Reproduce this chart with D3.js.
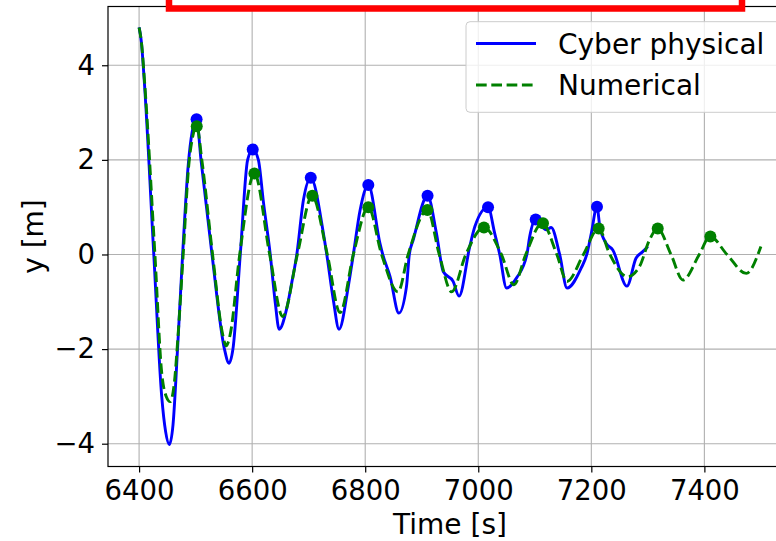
<!DOCTYPE html>
<html>
<head>
<meta charset="utf-8">
<script src="https://cdn.jsdelivr.net/npm/d3@7"></script>
<style>
  body { margin: 0; background: #fff; }
  svg { display: block; font-family: "DejaVu Sans", sans-serif; }
  .grid line { stroke: #b0b0b0; stroke-width: 1.1; }
  .tick text { fill: #000; }
</style>
</head>
<body>
<div id="chart"></div>
<script>
// values
var cyberT = [6400, 6404, 6409, 6426, 6440, 6447, 6453.5, 6460, 6468, 6477, 6487, 6494, 6501.7,
    6509.5, 6529, 6551, 6559, 6566, 6579, 6592, 6601, 6611, 6620, 6632, 6641, 6647.7,
    6661, 6670, 6679, 6690.7, 6703.7, 6726, 6732, 6743.6, 6753.7, 6770, 6779, 6791, 6805.5,
    6826, 6831, 6844, 6859.6, 6873, 6878, 6885, 6910.3, 6926, 6938, 6955.5, 6966, 6985,
    6994, 7017.3, 7029, 7038, 7050, 7067.5, 7086, 7091, 7101.6, 7120.5, 7129, 7144, 7157,
    7182, 7192, 7200, 7210, 7215, 7226, 7238, 7263, 7279, 7291, 7300];
var cyberY = [4.8, 4.5, 3.7, 0, -3.0, -3.75, -4.02, -3.6, -2.0, 0, 1.9, 2.6, 2.86,
    2.0, 0, -2, -2.30, -2, 0, 2.0, 2.22, 2.0, 1.1, 0, -1.03, -1.58,
    -1.15, -0.6, 0, 1.15, 1.62, 0.45, 0, -0.96, -1.58, -0.68, 0, 0.94, 1.47,
    0.24, 0, -0.47, -1.24, -0.68, 0, 0.31, 1.24, 0.45, -0.36, -0.57, -0.88, 0.17,
    0.59, 1.0, 0.45, 0, -0.71, -0.50, 0, 0.38, 0.74, 0.52, 0.57, 0, -0.71,
    -0.29, 0, 0.45, 1.01, 0.59, 0.24, 0.095, -0.67, -0.08, 0.06, 0.17];

var numT = [6400, 6404, 6410, 6428, 6440, 6448, 6455, 6462, 6469, 6478, 6488, 6495, 6502,
    6511, 6530, 6548, 6554, 6561, 6578, 6604, 6631, 6654, 6680, 6706, 6733, 6755.5,
    6779, 6805.5, 6829, 6858, 6876, 6910, 6931, 6953, 6978, 7010, 7041, 7063, 7084,
    7113, 7139, 7157, 7186, 7213, 7232, 7264, 7285, 7303, 7317, 7341, 7362, 7391,
    7410, 7440, 7474, 7500];
var numY = [4.8, 4.5, 3.6, 0, -2.5, -3.0, -3.11, -2.75, -1.7, 0, 1.9, 2.5, 2.72,
    2.0, 0, -1.7, -1.93, -1.7, 0, 1.71, 0, -1.31, 0, 1.24, 0, -1.23,
    0, 1.0, 0, -0.79, 0, 0.94, 0, -0.79, 0, 0.57, 0, -0.64, 0,
    0.66, 0, -0.57, 0, 0.55, 0.02, -0.47, -0.26, 0.31, 0.55, 0, -0.54, 0,
    0.38, 0, -0.40, 0.17];

var cyberPeakT = [6501.7, 6601, 6703.7, 6805.5, 6910.3, 7017.3, 7101.6, 7210];
var cyberPeakY = [2.86, 2.22, 1.62, 1.47, 1.24, 1.0, 0.74, 1.01];
var numPeakT = [6502, 6604, 6706.5, 6805.5, 6910, 7010, 7114.5, 7213, 7317.5, 7410.6];
var numPeakY = [2.71, 1.71, 1.24, 1.0, 0.94, 0.57, 0.66, 0.55, 0.55, 0.38];

var xTicks = [6400, 6600, 6800, 7000, 7200, 7400];
var yTicks = [-4, -2, 0, 2, 4];
var seriesNames = ["Cyber physical", "Numerical"];

(function() {
    var W = 776, H = 541;
    var pL = 108, pR = 792, pT = 6.5, pB = 466.5;

    function zip(a, b) { return a.map(function(v, i) { return [v, b[i]]; }); }

    var svg = d3.select("#chart").append("svg")
        .attr("width", W)
        .attr("height", H);

    var x = d3.scaleLinear().domain([6345, 7555]).range([pL, pR]);
    var y = d3.scaleLinear().domain([-4.482, 5.242]).range([pB, pT]);

    // grid
    var grid = svg.append("g").attr("class", "grid");
    grid.selectAll(".gx").data(xTicks).enter().append("line")
        .attr("x1", function(d) { return x(d); }).attr("x2", function(d) { return x(d); })
        .attr("y1", pT).attr("y2", pB);
    grid.selectAll(".gy").data(yTicks).enter().append("line")
        .attr("x1", pL).attr("x2", pR)
        .attr("y1", function(d) { return y(d); }).attr("y2", function(d) { return y(d); });

    // curves
    var line = d3.line()
        .x(function(d) { return x(d[0]); })
        .y(function(d) { return y(d[1]); })
        .curve(d3.curveMonotoneX);

    svg.append("path")
        .datum(zip(cyberT, cyberY))
        .attr("d", line)
        .attr("fill", "none")
        .attr("stroke", "#0000ff")
        .attr("stroke-width", 2.9);

    svg.append("path")
        .datum(zip(numT, numY))
        .attr("d", line)
        .attr("fill", "none")
        .attr("stroke", "#008000")
        .attr("stroke-width", 2.9)
        .attr("stroke-dasharray", "10.7,4.6");

    svg.selectAll(".pc").data(zip(cyberPeakT, cyberPeakY)).enter().append("circle")
        .attr("cx", function(d) { return x(d[0]); })
        .attr("cy", function(d) { return y(d[1]); })
        .attr("r", 6)
        .attr("fill", "#0000ff");

    svg.selectAll(".pn").data(zip(numPeakT, numPeakY)).enter().append("circle")
        .attr("cx", function(d) { return x(d[0]); })
        .attr("cy", function(d) { return y(d[1]); })
        .attr("r", 6)
        .attr("fill", "#008000");

    // axes
    var xAxis = svg.append("g")
        .attr("transform", "translate(0," + pB + ")")
        .call(d3.axisBottom(x).tickValues(xTicks).tickSize(6).tickPadding(8).tickFormat(d3.format("d")));
    var yAxis = svg.append("g")
        .attr("transform", "translate(" + pL + ",0)")
        .call(d3.axisLeft(y).tickValues(yTicks).tickSize(6).tickPadding(7)
            .tickFormat(function(d) { return d < 0 ? "\u2212" + Math.abs(d) : d; }));
    [xAxis, yAxis].forEach(function(a) {
        a.select(".domain").remove();
        a.selectAll(".tick line").attr("stroke", "#000").attr("stroke-width", 1.2);
        a.selectAll("text").attr("font-family", "DejaVu Sans").attr("font-size", 27.5);
    });

    svg.append("rect")
        .attr("x", pL).attr("y", pT)
        .attr("width", pR - pL).attr("height", pB - pT)
        .attr("fill", "none")
        .attr("stroke", "#000")
        .attr("stroke-width", 1.2);

    svg.append("text")
        .attr("x", (pL + pR) / 2).attr("y", 534)
        .attr("text-anchor", "middle")
        .attr("font-size", 28)
        .text("Time [s]");

    svg.append("text")
        .attr("transform", "translate(43," + ((pT + pB) / 2) + ") rotate(-90)")
        .attr("text-anchor", "middle")
        .attr("font-size", 28)
        .text("y [m]");

    // legend
    var leg = svg.append("g");
    leg.append("rect")
        .attr("x", 466).attr("y", 21.7)
        .attr("width", 318).attr("height", 90.6)
        .attr("rx", 4)
        .attr("fill", "#fff").attr("fill-opacity", 0.8)
        .attr("stroke", "#cccccc").attr("stroke-width", 1);

    var legStyle = [
        { color: "#0000ff", dash: null },
        { color: "#008000", dash: "10.7,4.6" }
    ];
    leg.selectAll(".ll").data(seriesNames).enter().append("line")
        .attr("x1", 476).attr("x2", 536)
        .attr("y1", function(d, i) { return 43.5 + i * 41.5; })
        .attr("y2", function(d, i) { return 43.5 + i * 41.5; })
        .attr("stroke", function(d, i) { return legStyle[i].color; })
        .attr("stroke-width", 2.9)
        .attr("stroke-dasharray", function(d, i) { return legStyle[i].dash; });
    leg.selectAll(".lt").data(seriesNames).enter().append("text")
        .attr("x", 558)
        .attr("y", function(d, i) { return 54 + i * 40.5; })
        .attr("font-size", 28)
        .text(function(d) { return d; });

    // red box at the top, mostly off the picture
    svg.append("rect")
        .attr("x", 169).attr("y", -60)
        .attr("width", 573).attr("height", 68.5)
        .attr("fill", "none")
        .attr("stroke", "#ff0000")
        .attr("stroke-width", 6.5);
})();
</script>
</body>
</html>
